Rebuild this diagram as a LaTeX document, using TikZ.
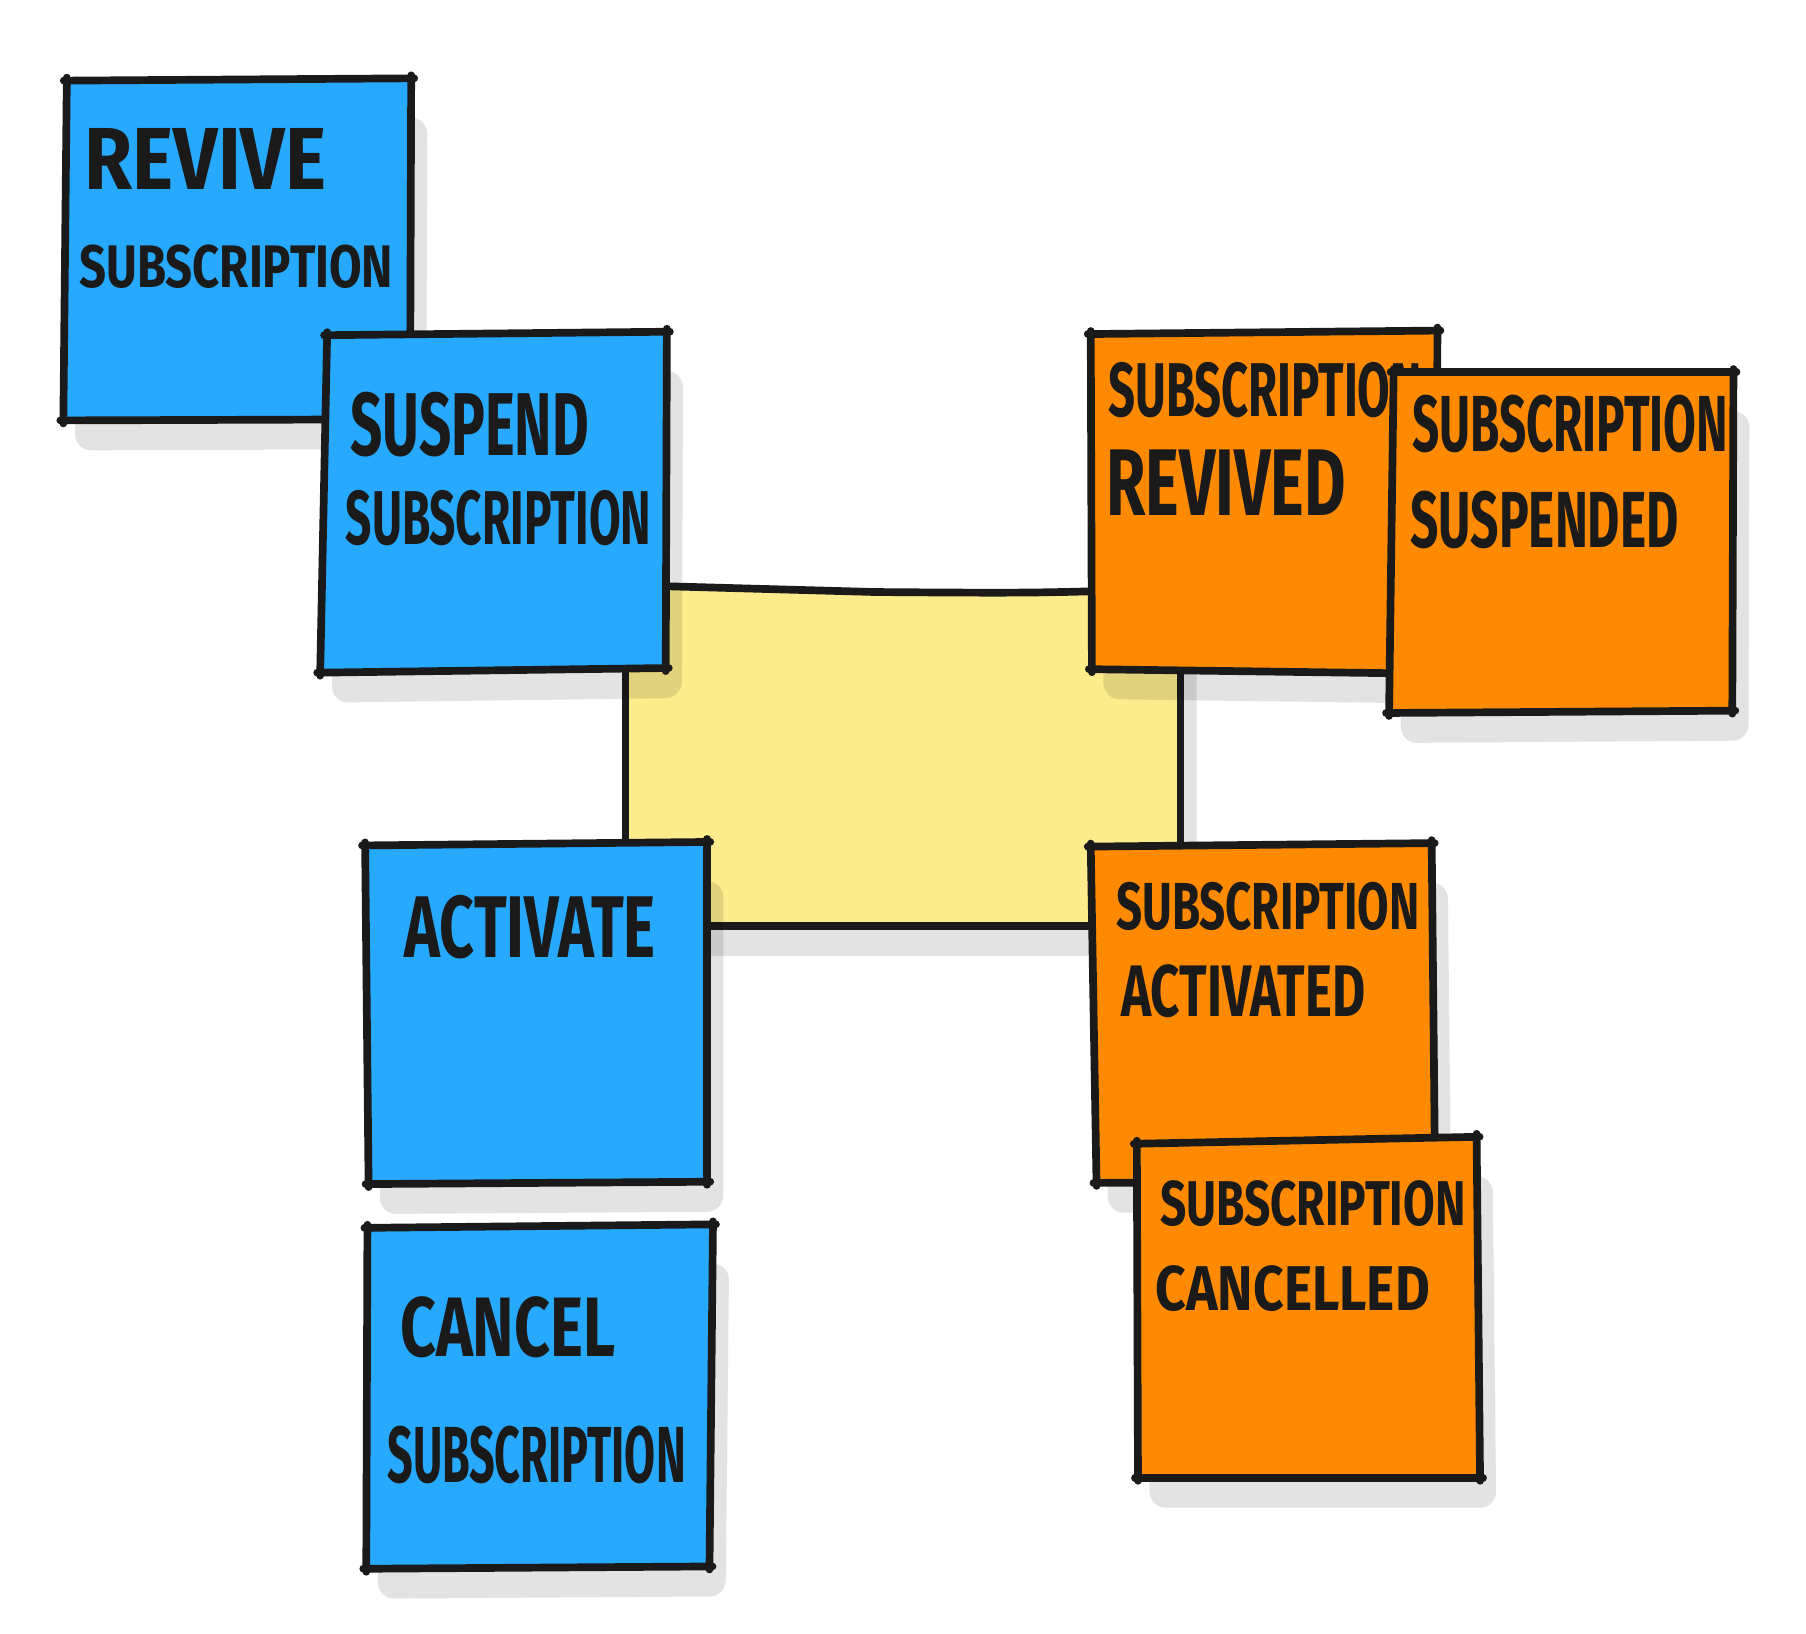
\documentclass[tikz,border=0pt]{standalone}
\usepackage{fontspec}
\setmainfont{Fira Sans}
\usepackage{graphicx}
\newlength\unitl \setlength\unitl{0.02cm}
\newcommand\hw[3]{\resizebox{#1\unitl}{#2\unitl}{\bfseries #3}}
\definecolor{ink}{HTML}{1A1A1A}
\definecolor{noteblue}{HTML}{27A9FF}
\definecolor{noteorange}{HTML}{FF8A00}
\definecolor{noteyellow}{HTML}{FDEC8C}
\newcommand\stickynote[6]{%
  \coordinate (#1-tl) at (#3);
  \coordinate (#1-tr) at (#4);
  \coordinate (#1-br) at (#5);
  \coordinate (#1-bl) at (#6);
  \fill[shadowfill] ([shift={(10,34)}]#1-tl) -- ([shift={(14,34)}]#1-tr) -- ([shift={(14,26)}]#1-br) -- ([shift={(10,26)}]#1-bl) -- cycle;
  \fill[#2] (#1-tl) -- (#1-tr) -- (#1-br) -- (#1-bl) -- cycle;
  \draw[edge] (#1-tl) -- (#1-tr);
  \draw[edge] (#1-tr) -- (#1-br);
  \draw[edge] (#1-br) -- (#1-bl);
  \draw[edge] (#1-bl) -- (#1-tl);
}
\begin{document}
\begin{tikzpicture}[x=0.02cm,y=-0.02cm,
  edge/.style={draw=ink, line width=3.8pt, line cap=round, line join=round, shorten <=-1.5pt, shorten >=-1.5pt},
  shadowfill/.style={fill=black, opacity=0.11, rounded corners=8},
  lbl/.style={inner sep=0pt, anchor=north west, text=ink}]
\useasboundingbox (0,0) rectangle (1568,1418);

% central yellow note
\coordinate (ye-tl) at (543,508);
\coordinate (ye-tm) at (760,514);
\coordinate (ye-tr) at (1025,511);
\coordinate (ye-br) at (1025,804);
\coordinate (ye-bl) at (543,804);
\fill[shadowfill] (553,538) -- (1039,541) -- (1039,830) -- (553,830) -- cycle;
\fill[noteyellow] (ye-tl) .. controls (650,511) .. (ye-tm) .. controls (900,515) .. (ye-tr) -- (ye-br) -- (ye-bl) -- cycle;
\draw[edge] (ye-tl) .. controls (650,511) .. (ye-tm) .. controls (900,515) .. (ye-tr);
\draw[edge] (ye-tr) -- (ye-br);
\draw[edge] (ye-br) -- (ye-bl);
\draw[edge] (ye-bl) -- (ye-tl);

% commands (blue)
\stickynote{rv}{noteblue}{58,70}{357,68}{356,364}{55,365}
\node[lbl] (rv1) at (73,111) {\hw{210}{53}{REVIVE}};
\node[lbl] (rv2) at (69,212) {\hw{272}{37}{SUBSCRIPTION}};

\stickynote{sp}{noteblue}{284,291}{579,288}{578,580}{278,584}
\node[lbl] (sp1) at (304,340) {\hw{207}{55}{SUSPEND}};
\node[lbl] (sp2) at (300,425) {\hw{265}{47}{SUBSCRIPTION}};

\stickynote{ac}{noteblue}{317,734}{614,731}{614,1026}{320,1028}
\node[lbl] (ac1) at (351,777) {\hw{218}{54}{ACTIVATE}};

\stickynote{ca}{noteblue}{319,1066}{619,1063}{616,1360}{318,1362}
\node[lbl] (ca1) at (347,1125) {\hw{187}{52}{CANCEL}};
\node[lbl] (ca2) at (336,1238) {\hw{259}{49}{SUBSCRIPTION}};

% events (orange)
\stickynote{sr}{noteorange}{947,290}{1248,287}{1247,585}{948,581}
\node[lbl] (sr1) at (962,314) {\hw{272}{47}{SUBSCRIPTION}};
\node[lbl] (sr2) at (960,390) {\hw{208}{57}{REVIVED}};

\stickynote{ss}{noteorange}{1210,323}{1505,323}{1504,617}{1206,619}
\node[lbl] (ss1) at (1226,343) {\hw{274}{49}{SUBSCRIPTION}};
\node[lbl] (ss2) at (1224,426) {\hw{233}{49}{SUSPENDED}};

\stickynote{sa}{noteorange}{947,735}{1243,732}{1246,1025}{952,1027}
\node[lbl] (sa1) at (969,766) {\hw{263}{41}{SUBSCRIPTION}};
\node[lbl] (sa2) at (973,837) {\hw{212}{45}{ACTIVATED}};

\stickynote{sc}{noteorange}{987,993}{1282,987}{1285,1283}{988,1283}
\node[lbl] (sc1) at (1007,1025) {\hw{265}{39}{SUBSCRIPTION}};
\node[lbl] (sc2) at (1003,1098) {\hw{238}{39}{CANCELLED}};
\end{tikzpicture}
\end{document}
